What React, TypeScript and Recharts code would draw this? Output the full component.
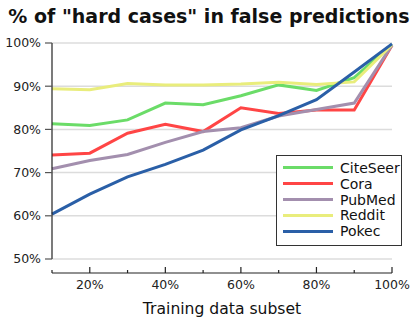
import { LineChart, Line, CartesianGrid, XAxis, YAxis } from 'recharts';

const subsets = [10, 20, 30, 40, 50, 60, 70, 80, 90, 100];
const citeseer = [81.3, 80.9, 82.2, 86.1, 85.7, 87.8, 90.3, 89.0, 92.0, 99.7];
const cora = [74.1, 74.5, 79.1, 81.2, 79.5, 85.0, 83.7, 84.5, 84.5, 99.5];
const pubmed = [70.9, 72.8, 74.2, 77.0, 79.5, 80.4, 83.1, 84.6, 86.1, 99.5];
const reddit = [89.4, 89.2, 90.6, 90.3, 90.3, 90.5, 90.9, 90.4, 91.0, 99.6];
const pokec = [60.4, 65.0, 69.0, 71.9, 75.2, 79.9, 83.2, 86.9, 93.3, 99.8];
const yTicks = [50, 60, 70, 80, 90, 100];

const series = [
    { key: 'CiteSeer', values: citeseer, color: '#6bdc68' },
    { key: 'Cora', values: cora, color: '#ff4545' },
    { key: 'PubMed', values: pubmed, color: '#a38fae' },
    { key: 'Reddit', values: reddit, color: '#e9ed7c' },
    { key: 'Pokec', values: pokec, color: '#2a5fa7' },
];

const font = "'DejaVu Sans', sans-serif";

const data: any[] = subsets.map((s, i) => {
    const row: any = { subset: s };
    series.forEach(ser => { row[ser.key] = ser.values[i]; });
    return row;
});

// x axis sits a bit below the plot, ticks point up from it
const XTick = (props: any) => {
    const { x, y, payload, index, width } = props;
    const base = y + 14;
    const major = payload.value % 20 === 0;
    return <g>
        {index === 0 && <line x1={x} x2={x + width} y1={base} y2={base} stroke="#222" strokeWidth={1.2} />}
        <line x1={x} x2={x} y1={base} y2={base - (major ? 6 : 3)} stroke="#222" strokeWidth={1.2} />
        {major && <text x={x} y={base + 16} textAnchor="middle" fontSize={12.5} fontFamily={font} fill="#222">{payload.value}%</text>}
    </g>
}

const App = () => {
    return <div style={{ position: 'absolute', left: 0, top: 0, width: 418, height: 324, background: '#fff', fontFamily: font }}>
        <div style={{ position: 'absolute', left: 0, top: 5, width: 418, textAlign: 'center', fontSize: 19, fontWeight: 'bold', color: '#111', whiteSpace: 'nowrap' }}>
            % of "hard cases" in false predictions
        </div>
        <LineChart width={418} height={324} data={data} margin={{ top: 43, right: 26, bottom: 0, left: 0 }}>
            <CartesianGrid vertical={false} stroke="#dcdcdc" strokeWidth={1.5} />
            <XAxis dataKey="subset" type="number" domain={[10, 100]} ticks={subsets} interval={0}
                height={65} axisLine={false} tickLine={false} tickSize={0} tickMargin={0}
                tick={<XTick />}
                label={{ value: 'Training data subset', position: 'insideBottom', offset: 10, fontSize: 15.6, fontFamily: font, fill: '#111' }} />
            <YAxis type="number" domain={[50, 100]} ticks={yTicks} width={52} tickFormatter={(v: number) => v + '%'}
                axisLine={{ stroke: '#222', strokeWidth: 1.2 }} tickLine={{ stroke: '#555', strokeWidth: 1.2 }}
                tickSize={7} tickMargin={4} tick={{ fontSize: 12.5, fontFamily: font, fill: '#222' }} />
            {series.map(s => (
                <Line key={s.key} dataKey={s.key} stroke={s.color} strokeWidth={3} dot={false} type="linear" isAnimationActive={false} />
            ))}
        </LineChart>
        <div style={{ position: 'absolute', left: 276, top: 155, width: 124, height: 85, border: '1px solid #333', background: '#fff', boxSizing: 'content-box', paddingTop: 4 }}>
            {series.map(s => (
                <div key={s.key} style={{ display: 'flex', alignItems: 'center', height: 15.8, fontSize: 14, color: '#111' }}>
                    <div style={{ width: 50, height: 3, background: s.color, marginLeft: 6, marginRight: 7 }} />
                    <span>{s.key}</span>
                </div>
            ))}
        </div>
    </div>
}

export default App;
